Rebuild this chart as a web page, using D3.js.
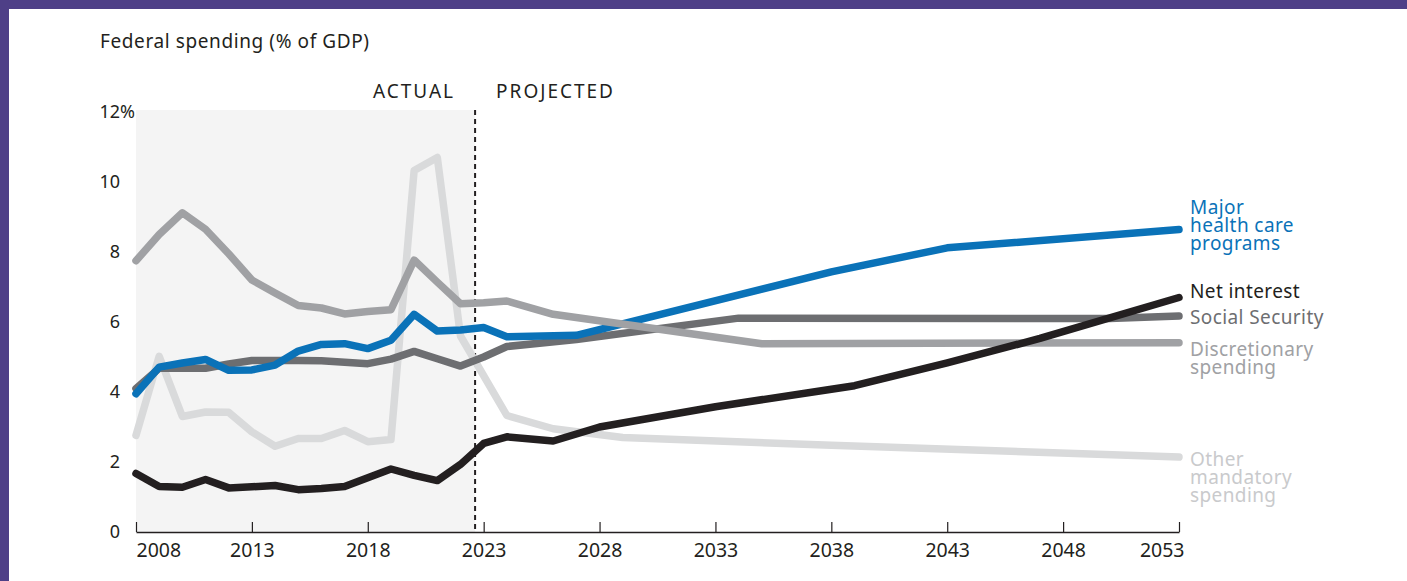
<!DOCTYPE html>
<html>
<head>
<meta charset="utf-8">
<script src="https://cdn.jsdelivr.net/npm/d3@7"></script>
<style>
  html, body { margin: 0; padding: 0; background: #fff; }
  #svg-container { width: 1407px; height: 581px; }
  svg { display: block; font-family: "Noto Sans", "Open Sans", sans-serif; }
  .tick-label { font-size: 18px; fill: #231f20; }
  .x-label { font-size: 19.5px; fill: #231f20; }
  .series-label { font-size: 19px; letter-spacing: 0.4px; }
</style>
</head>
<body>
<div id="svg-container"></div>
<script>
////////////////////////////////////////////////////////////////////
////////////////////////////  Data  ////////////////////////////////
// [year, % of GDP]
const healthCare = [
  [2008, 3.95], [2009, 4.71], [2010, 4.83], [2011, 4.93], [2012, 4.62],
  [2013, 4.63], [2014, 4.77], [2015, 5.17], [2016, 5.36], [2017, 5.38],
  [2018, 5.24], [2019, 5.48], [2020, 6.22], [2021, 5.74], [2022, 5.77],
  [2023, 5.84], [2024, 5.58], [2027, 5.62], [2038, 7.43], [2043, 8.12],
  [2053, 8.64]
];
const netInterest = [
  [2008, 1.67], [2009, 1.30], [2010, 1.28], [2011, 1.50], [2012, 1.26],
  [2013, 1.29], [2014, 1.33], [2015, 1.21], [2016, 1.24], [2017, 1.30],
  [2018, 1.55], [2019, 1.80], [2020, 1.62], [2021, 1.47], [2022, 1.93],
  [2023, 2.53], [2024, 2.72], [2026, 2.60], [2028, 3.0], [2033, 3.58],
  [2038, 4.08], [2039, 4.18], [2043, 4.83], [2047, 5.53], [2053, 6.70]
];
const socialSecurity = [
  [2008, 4.10], [2009, 4.68], [2010, 4.68], [2011, 4.68], [2012, 4.80],
  [2013, 4.90], [2014, 4.90], [2015, 4.90], [2016, 4.89], [2017, 4.85],
  [2018, 4.81], [2019, 4.94], [2020, 5.16], [2021, 4.95], [2022, 4.74],
  [2023, 5.0], [2024, 5.3], [2027, 5.5], [2034, 6.11], [2050, 6.1],
  [2053, 6.17]
];
const discretionary = [
  [2008, 7.75], [2009, 8.5], [2010, 9.12], [2011, 8.65], [2012, 7.95],
  [2013, 7.2], [2014, 6.83], [2015, 6.47], [2016, 6.4], [2017, 6.23],
  [2018, 6.3], [2019, 6.35], [2020, 7.77], [2021, 7.14], [2022, 6.52],
  [2023, 6.55], [2024, 6.6], [2026, 6.22], [2035, 5.38], [2053, 5.41]
];
const otherMandatory = [
  [2008, 2.76], [2009, 5.02], [2010, 3.3], [2011, 3.43], [2012, 3.42],
  [2013, 2.86], [2014, 2.45], [2015, 2.67], [2016, 2.67], [2017, 2.9],
  [2018, 2.58], [2019, 2.64], [2020, 10.33], [2021, 10.7], [2022, 5.6],
  [2024, 3.33], [2026, 2.95], [2029, 2.7], [2038, 2.48], [2053, 2.14]
];

const xTicks = [2008, 2013, 2018, 2023, 2028, 2033, 2038, 2043, 2048, 2053];
const yTicks = [0, 2, 4, 6, 8, 10, 12];
const projectionStart = 2022.63;

// drawn bottom to top
const series = [
  { name: ["Other", "mandatory", "spending"], data: otherMandatory, color: "#d9dadb", text: "#c9cacc", dy: 9 },
  { name: ["Social Security"], data: socialSecurity, color: "#6d6e71", text: "#6d6e71", dy: 8 },
  { name: ["Major", "health care", "programs"], data: healthCare, color: "#0a72b8", text: "#0a72b8", dy: -16 },
  { name: ["Discretionary", "spending"], data: discretionary, color: "#a0a1a4", text: "#a0a1a4", dy: 13 },
  { name: ["Net interest"], data: netInterest, color: "#231f20", text: "#231f20", dy: 0 }
];

////////////////////////////////////////////////////////////////////
////////////////////////////  Init  ////////////////////////////////
const width = 1407;
const height = 581;
const margin = { top: 112, right: 228, bottom: 49, left: 136 };

const svg = d3.select("#svg-container").append("svg")
  .attr("width", width)
  .attr("height", height);

const xScale = d3.scaleLinear().domain([2008, 2053]).range([margin.left, width - margin.right]);
const yScale = d3.scaleLinear().domain([0, 12]).range([height - margin.bottom, margin.top]);

// frame
svg.append("rect").attr("x", 0).attr("y", 0).attr("width", width).attr("height", 9).attr("fill", "#4e3f87");
svg.append("rect").attr("x", 0).attr("y", 0).attr("width", 9).attr("height", height).attr("fill", "#4e3f87");

// title
svg.append("text")
  .attr("x", 100).attr("y", 48)
  .attr("font-size", 19).attr("letter-spacing", 0.6).attr("fill", "#231f20")
  .text("Federal spending (% of GDP)");

// actual shade + divider
svg.append("rect")
  .attr("x", xScale(2008))
  .attr("y", yScale(12) - 2)
  .attr("width", xScale(projectionStart) - xScale(2008))
  .attr("height", yScale(0) - yScale(12) + 2)
  .attr("fill", "#f4f4f4");

svg.append("line")
  .attr("x1", xScale(projectionStart)).attr("x2", xScale(projectionStart))
  .attr("y1", yScale(12) - 2).attr("y2", yScale(0))
  .attr("stroke", "#231f20").attr("stroke-width", 2)
  .attr("stroke-dasharray", "5,4");

svg.append("text")
  .attr("x", xScale(projectionStart) - 20).attr("y", 98)
  .attr("text-anchor", "end").attr("font-size", 19).attr("letter-spacing", 2)
  .attr("fill", "#231f20")
  .text("ACTUAL");
svg.append("text")
  .attr("x", xScale(projectionStart) + 21).attr("y", 98)
  .attr("font-size", 19).attr("letter-spacing", 2).attr("fill", "#231f20")
  .text("PROJECTED");

// y axis labels
const yLabels = svg.append("g");
yLabels.selectAll("text")
  .data(yTicks)
  .join("text")
  .attr("class", "tick-label")
  .attr("x", 120)
  .attr("y", (d) => yScale(d))
  .attr("dy", "0.35em")
  .attr("text-anchor", "end")
  .text((d) => d);
svg.append("text")
  .attr("class", "tick-label")
  .attr("x", 120).attr("y", yScale(12)).attr("dy", "0.35em")
  .text("%");

// x axis
const xAxis = d3.axisBottom(xScale)
  .tickValues(xTicks)
  .tickSizeInner(-10)
  .tickSizeOuter(0)
  .tickPadding(11)
  .tickFormat(d3.format("d"));

const gx = svg.append("g")
  .attr("transform", `translate(0, ${yScale(0)})`)
  .call(xAxis);
gx.attr("font-family", null).attr("font-size", null);
gx.select(".domain").attr("stroke", "#231f20").attr("stroke-width", 1.5);
gx.selectAll(".tick line").attr("stroke", "#231f20").attr("stroke-width", 1.2);
gx.selectAll(".tick text")
  .attr("class", "x-label")
  .attr("text-anchor", (d, i) => (i === 0 ? "start" : i === xTicks.length - 1 ? "end" : "middle"))
  .attr("dx", (d, i) => (i === xTicks.length - 1 ? 5 : 0));

// lines
const line = d3.line()
  .x((d) => xScale(d[0]))
  .y((d) => yScale(d[1]));

svg.append("g")
  .selectAll("path")
  .data(series)
  .join("path")
  .attr("d", (d) => line(d.data))
  .attr("fill", "none")
  .attr("stroke", (d) => d.color)
  .attr("stroke-width", 7.5)
  .attr("stroke-linejoin", "round")
  .attr("stroke-linecap", "round");

// series labels
const labels = svg.append("g")
  .selectAll("text")
  .data(series)
  .join("text")
  .attr("class", "series-label")
  .attr("x", xScale(2053) + 11)
  .attr("y", (d) => yScale(d.data[d.data.length - 1][1]) + d.dy)
  .attr("fill", (d) => d.text);

labels.selectAll("tspan")
  .data((d) => d.name)
  .join("tspan")
  .attr("x", xScale(2053) + 11)
  .attr("dy", (d, i) => (i === 0 ? 0 : 18))
  .text((d) => d);
</script>
</body>
</html>
